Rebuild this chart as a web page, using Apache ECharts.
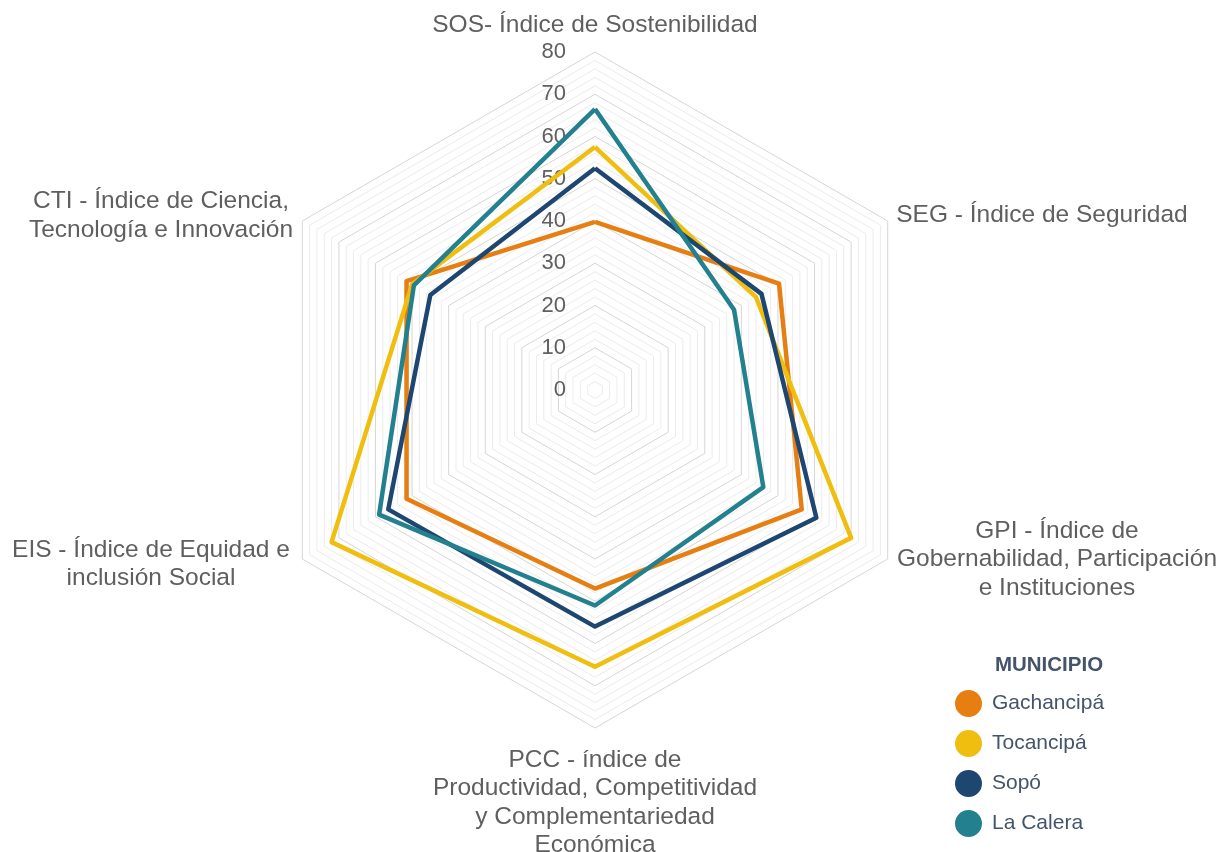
<!DOCTYPE html>
<html>
<head>
<meta charset="utf-8">
<title>Índices municipales</title>
<script src="https://cdn.jsdelivr.net/npm/echarts@6/dist/echarts.min.js"></script>
<style>
  html, body { margin: 0; padding: 0; background: #ffffff; }
  #chart { width: 1227px; height: 852px; }
</style>
</head>
<body>
<div id="chart"></div>
<script>
// Indicators in drawing order (ECharts places them counter-clockwise from the top)
const indicatorNames = [
  'SOS- Índice de Sostenibilidad',
  'CTI - Índice de Ciencia,\nTecnología e Innovación',
  'EIS - Índice de Equidad e\ninclusión Social',
  'PCC - índice de\nProductividad, Competitividad\ny Complementariedad\nEconómica',
  'GPI - Índice de\nGobernabilidad, Participación\ne Instituciones',
  'SEG - Índice de Seguridad'
];

// Values per municipality, same order as indicatorNames: SOS, CTI, EIS, PCC, GPI, SEG
const gachancipa = [39.8, 51.5, 51.5, 47.0, 56.5, 50.3];
const tocancipa  = [57.5, 50.0, 72.0, 65.5, 70.0, 44.0];
const sopo       = [52.5, 45.0, 56.5, 56.0, 60.5, 45.5];
const laCalera   = [66.5, 49.5, 59.0, 51.0, 46.0, 38.0];

const seriesNames = ['Gachancipá', 'Tocancipá', 'Sopó', 'La Calera'];
const seriesValues = [gachancipa, tocancipa, sopo, laCalera];
const seriesColors = ['#E67E12', '#F0BE0E', '#1D4670', '#23808E'];

const axisMax = 80;
const minorStep = 2;   // light rings every 2 units
const majorEvery = 5;  // darker ring every 10 units

const labelFont = '"Liberation Sans", Arial, sans-serif';
const nameColor = '#5f5f5f';

// Axis titles placed around the hexagon
const axisTitles = [
  { text: indicatorNames[0], x: 595,  y: 25 },
  { text: indicatorNames[5], x: 1042, y: 215 },
  { text: indicatorNames[4], x: 1057, y: 559.5 },
  { text: indicatorNames[3], x: 595,  y: 802.5 },
  { text: indicatorNames[2], x: 151,  y: 564 },
  { text: indicatorNames[1], x: 161,  y: 215.5 }
];

const ringColors = ['#d6d6d6'];
for (let i = 1; i < majorEvery; i++) ringColors.push('#ececec');

const chart = echarts.init(document.getElementById('chart'), null, { renderer: 'canvas' });

chart.setOption({
  backgroundColor: '#ffffff',
  animation: false,
  radar: {
    center: [595, 390],
    radius: 338,
    startAngle: 90,
    shape: 'polygon',
    splitNumber: axisMax / minorStep,
    indicator: indicatorNames.map((n, i) => {
      const ind = { name: n, min: 0, max: axisMax };
      if (i === 0) {
        ind.axisLabel = {
          show: true,
          color: '#5f5f5f',
          fontSize: 22,
          fontFamily: labelFont,
          margin: 29,
          formatter: v => (Math.round(v) % 10 === 0 ? String(Math.round(v)) : '')
        };
      }
      return ind;
    }),
    axisName: { show: false },
    axisLine: { show: false },
    axisTick: { show: false },
    axisLabel: { show: false },
    splitArea: { show: false },
    splitLine: { lineStyle: { color: ringColors, width: 1 } }
  },
  legend: {
    orient: 'vertical',
    left: 950,
    top: 685,
    icon: 'circle',
    itemWidth: 27,
    itemHeight: 27,
    itemGap: 13,
    data: seriesNames,
    textStyle: { color: '#44546A', fontSize: 21, fontFamily: labelFont, padding: [0, 0, 0, 5] }
  },
  graphic: [
    {
      type: 'text',
      style: {
        text: 'MUNICIPIO', x: 1049, y: 665,
        textAlign: 'center', textVerticalAlign: 'middle',
        font: 'bold 20.5px ' + labelFont, fill: '#44546A'
      }
    }
  ].concat(axisTitles.map(t => ({
    type: 'text',
    style: {
      text: t.text, x: t.x, y: t.y,
      textAlign: 'center', textVerticalAlign: 'middle',
      font: '24.5px ' + labelFont, fill: nameColor, lineHeight: 28.5
    }
  }))),
  series: [{
    type: 'radar',
    symbol: 'none',
    data: seriesValues.map((vals, i) => ({
      name: seriesNames[i],
      value: vals,
      lineStyle: { color: seriesColors[i], width: 4.5 },
      itemStyle: { color: seriesColors[i] }
    }))
  }]
});
</script>
</body>
</html>
